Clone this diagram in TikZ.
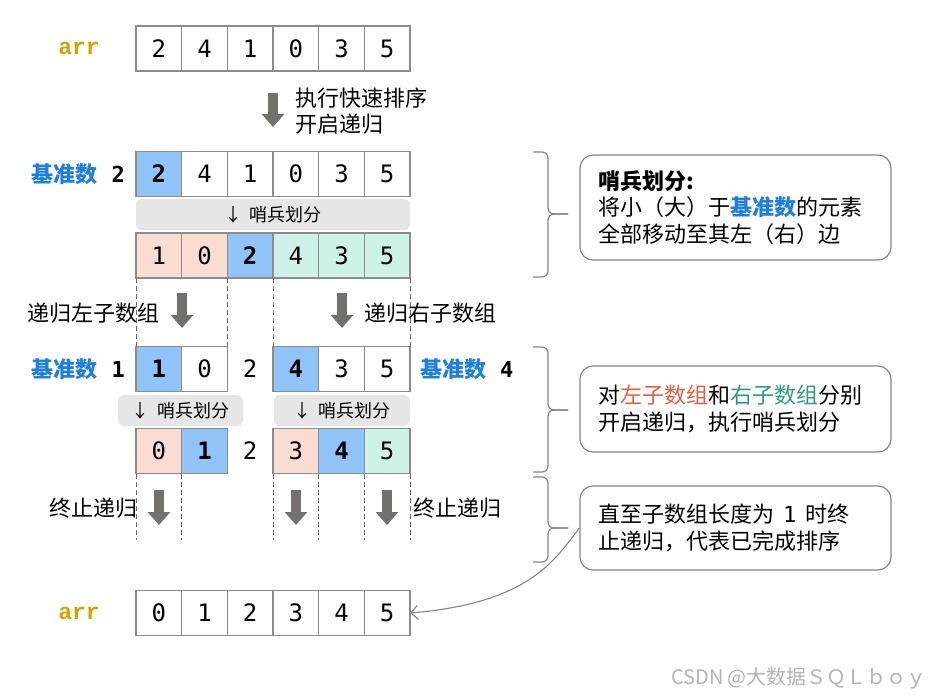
\documentclass[tikz,border=0pt]{standalone}
\usepackage{fontspec}
\setmainfont{Noto Sans CJK SC}
\newfontfamily\digitfont{DejaVu Sans Mono}
\newfontfamily\codefont{Liberation Mono}
\usetikzlibrary{arrows.meta}

\definecolor{cellgray}{HTML}{8C8C8C}
\definecolor{pivotblue}{HTML}{90C4F9}
\definecolor{lowpink}{HTML}{FADCD3}
\definecolor{highteal}{HTML}{CDF2EA}
\definecolor{bandgray}{HTML}{E6E6E6}
\definecolor{arrowgray}{HTML}{737070}
\definecolor{guidegray}{HTML}{6A6A6A}
\definecolor{notegray}{HTML}{858585}
\definecolor{textblue}{HTML}{1F7FE0}
\definecolor{leftred}{HTML}{E85C40}
\definecolor{rightteal}{HTML}{2A9A84}
\definecolor{arrgold}{HTML}{D8A000}
\definecolor{markgray}{HTML}{B4B4B4}

\providecommand{\CellLeft}{136}
\providecommand{\CellW}{45.67}
\providecommand{\CellH}{45}
\newcommand{\CellSize}{\fontsize{24}{28}\selectfont}
\newcommand{\CnSize}{\fontsize{22}{26.5}\selectfont}
\newcommand{\BandSize}{\fontsize{18}{20}\selectfont}
\newcommand{\ArrSize}{\fontsize{23}{24}\selectfont}

% one row of array cells: name prefix, y, list of index/value/fill/weight
\newcommand{\DrawCells}[3]{%
    \foreach \i/\v/\c/\w in {#3} {
        \pgfmathsetmacro{\cx}{\CellLeft + (\i + 0.5)*\CellW}
        \node[cell, fill=\c, font=\digitfont\CellSize\w] (#1\i) at (\cx,#2) {\v};
    }%
}

% right-hand curly bracket: top, tip, bottom
\newcommand{\DrawBracket}[3]{%
    \draw[bracketline] (533,#1) -- (548,#1) -- (548,#2) -- (568,#2);
    \draw[bracketline] (568,#2) -- (548,#2) -- (548,#3) -- (533,#3);
}

\tikzset{
    cell/.style={draw=cellgray, line width=1.3pt, minimum width=\CellW pt,
        minimum height=\CellH pt, inner sep=0pt, outer sep=0pt},
    band/.style={fill=bandgray, rounded corners=6pt, minimum height=31pt,
        inner sep=0pt, font=\BandSize},
    bigarrow/.style={draw=arrowgray, line width=10pt,
        -{Triangle[length=13pt,width=22pt]}},
    guide/.style={draw=guidegray, line width=0.8pt, dash pattern=on 5pt off 3pt},
    note/.style={draw=notegray, line width=1.2pt, rounded corners=13pt,
        text width=275pt, align=left, inner xsep=18pt, inner ysep=0pt,
        minimum width=311pt, font=\CnSize},
    bracketline/.style={draw=notegray, line width=1.2pt, rounded corners=6pt},
    tag/.style={font=\CnSize, inner sep=0pt},
    arrname/.style={font=\codefont\bfseries\ArrSize, text=arrgold},
}

\begin{document}
\begin{tikzpicture}[x=1pt,y=-1pt]

\useasboundingbox (0,0) rectangle (947,697);
\fill[white] (0,0) rectangle (947,697);

% =====================================================
% INPUT ARRAY
% =====================================================
\node[arrname] (arrTop) at (79,48) {arr};
\DrawCells{a}{48.5}{0/2/white/\mdseries,1/4/white/\mdseries,2/1/white/\mdseries,
    3/0/white/\mdseries,4/3/white/\mdseries,5/5/white/\mdseries}

\coordinate (startTop) at (273,93);
\coordinate (startEnd) at (273,127);
\draw[bigarrow] (startTop) -- (startEnd);
\node[tag, anchor=west, align=left] (startText) at (295,111) {执行快速排序\\开启递归};

% =====================================================
% LEVEL 1: PIVOT 2
% =====================================================
\node[tag, anchor=east] (pivotB) at (125,174)
    {{\bfseries\color{textblue}基准数}\hspace{14pt}{\digitfont\bfseries 2}};
\DrawCells{b}{174}{0/2/pivotblue/\bfseries,1/4/white/\mdseries,2/1/white/\mdseries,
    3/0/white/\mdseries,4/3/white/\mdseries,5/5/white/\mdseries}

\node[band, minimum width=274pt] (bandB) at (273,214.5) {↓\hspace{8pt}哨兵划分};

\DrawCells{c}{255.5}{0/1/lowpink/\mdseries,1/0/lowpink/\mdseries,2/2/pivotblue/\bfseries,
    3/4/highteal/\mdseries,4/3/highteal/\mdseries,5/5/highteal/\mdseries}

% =====================================================
% RECURSION INTO BOTH HALVES
% =====================================================
\coordinate (leftTop) at (182,293);
\coordinate (leftEnd) at (182,328);
\coordinate (rightTop) at (342,293);
\coordinate (rightEnd) at (342,328);
\draw[bigarrow] (leftTop) -- (leftEnd);
\draw[bigarrow] (rightTop) -- (rightEnd);
\node[tag, anchor=east] (leftText) at (160,313) {递归左子数组};
\node[tag, anchor=west] (rightText) at (364,313) {递归右子数组};

% =====================================================
% LEVEL 2: PIVOTS 1 AND 4
% =====================================================
\node[tag, anchor=east] (pivotD) at (125,369)
    {{\bfseries\color{textblue}基准数}\hspace{14pt}{\digitfont\bfseries 1}};
\node[tag, anchor=west] (pivotDR) at (420,369)
    {{\bfseries\color{textblue}基准数}\hspace{14pt}{\digitfont\bfseries 4}};
\DrawCells{d}{369}{0/1/pivotblue/\bfseries,1/0/white/\mdseries,
    3/4/pivotblue/\bfseries,4/3/white/\mdseries,5/5/white/\mdseries}
\node[font=\digitfont\CellSize] (d2) at (250.2,369) {2};

\draw[guide] (c0.south west) -- (d0.north west);
\draw[guide] (c1.south east) -- (d1.north east);
\draw[guide] (c3.south west) -- (d3.north west);
\draw[guide] (c5.south east) -- (d5.north east);

\node[band, minimum width=125pt] (bandL) at (180.5,410.5) {↓\hspace{8pt}哨兵划分};
\node[band, minimum width=136pt] (bandR) at (342,410.5) {↓\hspace{8pt}哨兵划分};

\DrawCells{e}{451}{0/0/lowpink/\mdseries,1/1/pivotblue/\bfseries,
    3/3/lowpink/\mdseries,4/4/pivotblue/\bfseries,5/5/highteal/\mdseries}
\node[font=\digitfont\CellSize] (e2) at (250.2,451) {2};

% =====================================================
% STOP RECURSION
% =====================================================
\coordinate (guideEnd) at (0,540);
\foreach \a in {e0.south west,e1.south west,e3.south west,e4.south west,e5.south west,e5.south east} {
    \draw[guide] (\a) -- (\a |- guideEnd);
}

\foreach \n/\x in {stopA/159,stopB/296,stopC/387} {
    \coordinate (\n Top) at (\x,490);
    \coordinate (\n End) at (\x,525);
    \draw[bigarrow] (\n Top) -- (\n End);
}
\node[tag, anchor=east] (stopTextL) at (138,508) {终止递归};
\node[tag, anchor=west] (stopTextR) at (413,508) {终止递归};

% =====================================================
% SORTED ARRAY
% =====================================================
\node[arrname] (arrBottom) at (79,613) {arr};
\DrawCells{f}{613}{0/0/white/\mdseries,1/1/white/\mdseries,2/2/white/\mdseries,
    3/3/white/\mdseries,4/4/white/\mdseries,5/5/white/\mdseries}

% =====================================================
% NOTES ON THE RIGHT
% =====================================================
\DrawBracket{152}{214}{277}
\DrawBracket{347}{410}{472}
\DrawBracket{477}{528}{562}

\node[note, minimum height=105pt] (noteA) at (735.5,207.5)
    {{\bfseries 哨兵划分:}\\将小（大）于{\bfseries\color{textblue}基准数}的元素\\全部移动至其左（右）边};
\node[note, minimum height=86pt] (noteB) at (735.5,409)
    {对{\color{leftred}左子数组}和{\color{rightteal}右子数组}分别\\开启递归，执行哨兵划分};
\node[note, minimum height=84pt] (noteC) at (735.5,528)
    {直至子数组长度为\hspace{9pt}{\digitfont 1}\hspace{9pt}时终\\止递归，代表已完成排序};

\draw[draw=notegray, line width=1.1pt, -{Straight Barb[length=7pt,width=14pt]}]
    (noteC.west) .. controls +(-25,32) and +(120,-10) .. (f5.east);

% watermark
\node[font=\fontsize{20}{21}\selectfont, text=markgray] (mark) at (799,678) {CSDN @大数据ＳＱＬｂｏｙ};

\end{tikzpicture}
\end{document}
